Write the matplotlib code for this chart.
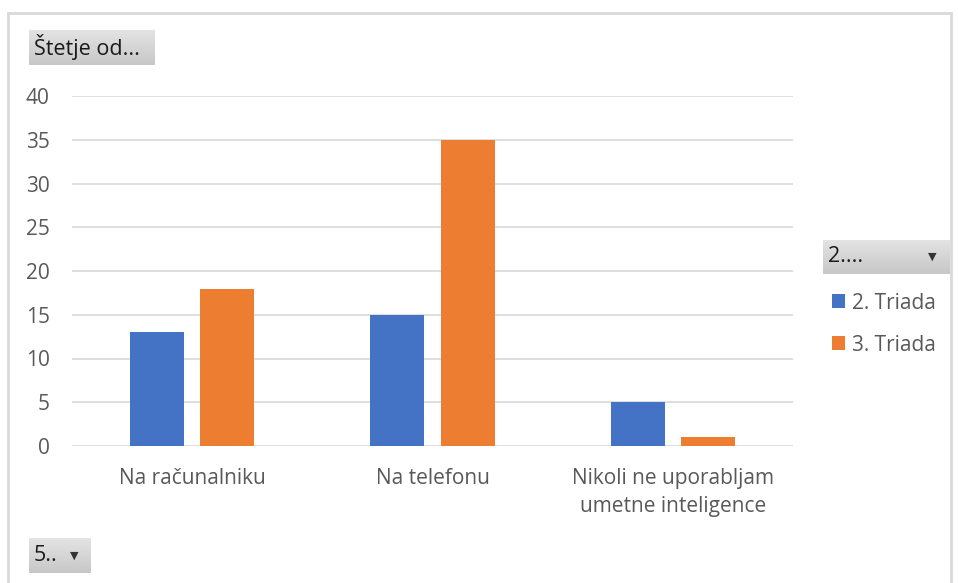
import matplotlib.pyplot as plt
import numpy as np
from matplotlib.patches import Rectangle

plt.rcParams['font.family'] = ['Open Sans', 'DejaVu Sans']

categories = ['Na računalniku', 'Na telefonu', 'Nikoli ne uporabljam\numetne inteligence']
series_names = ['2. Triada', '3. Triada']
triada2 = [13, 15, 5]
triada3 = [18, 35, 1]
colors = ['#4472C4', '#ED7D31']

W, H = 958, 583
fig = plt.figure(figsize=(W / 100, H / 100), dpi=100)


def px(x0, y0, x1, y1):
    # pixel box (top-left origin) -> figure fraction rect
    return [x0 / W, 1 - y1 / H, (x1 - x0) / W, (y1 - y0) / H]


# outer chart border
fig.patches.append(Rectangle((8 / W, -0.01), (951 - 8) / W, 1 - 13 / H + 0.01,
                             transform=fig.transFigure, fill=False,
                             edgecolor='#d9d9d9', linewidth=2))

ax = fig.add_axes(px(72, 96, 793, 446))
x = np.arange(len(categories))
bw = 0.225
off = 0.146
ax.bar(x - off, triada2, bw, color=colors[0], label=series_names[0], zorder=3)
ax.bar(x + off, triada3, bw, color=colors[1], label=series_names[1], zorder=3)

ax.set_xlim(-0.5, len(categories) - 0.5)
ax.set_ylim(0, 40)
ax.set_yticks(range(0, 41, 5))
ax.set_xticks(x)
ax.set_xticklabels(categories, linespacing=1.4)
ax.grid(axis='y', color='#d9d9d9', linewidth=1.2, zorder=0)
for s in ax.spines.values():
    s.set_visible(False)
ax.tick_params(length=0, labelsize=15, labelcolor='#595959')
ax.tick_params(axis='y', pad=16)
ax.tick_params(axis='x', pad=16)

# legend
leg = fig.legend(loc='upper left', bbox_to_anchor=(813 / W, 1 - 274 / H),
                 frameon=False, fontsize=15, handlelength=0.65, handleheight=0.65,
                 handletextpad=0.3, labelspacing=1.0, labelcolor='#595959')


def button(x0, y0, x1, y1, text, arrow_x=None):
    bax = fig.add_axes(px(x0, y0, x1, y1))
    grad = np.linspace(0.89, 0.78, 50).reshape(-1, 1)
    bax.imshow(grad, aspect='auto', cmap='gray', vmin=0, vmax=1,
               extent=[0, 1, 0, 1], origin='upper')
    bax.set_xlim(0, 1)
    bax.set_ylim(0, 1)
    bax.axis('off')
    bax.text(5 / (x1 - x0), 0.5, text, fontsize=15.5, color='#1a1a1a',
             va='center', ha='left')
    if arrow_x is not None:
        ax_f = (arrow_x - x0) / (x1 - x0)
        bax.text(ax_f, 0.5, '▼', fontsize=8, color='#333333',
                 va='center', ha='center', family='DejaVu Sans')


button(29, 30, 154, 65, 'Štetje od...')
button(823, 240, 949, 274, '2....', 932)
button(29, 538, 91, 573, '5..', 74)

fig.savefig('out.png', dpi=100)
